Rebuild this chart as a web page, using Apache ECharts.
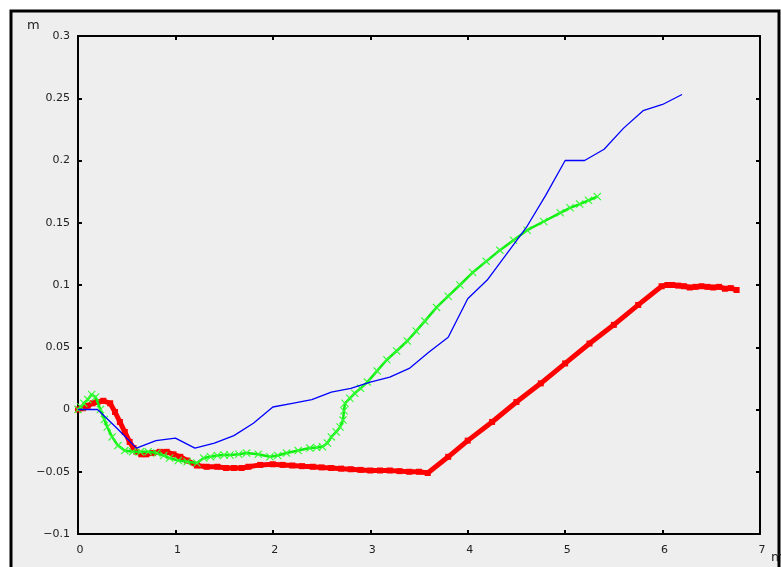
<!DOCTYPE html>
<html>
<head>
<meta charset="utf-8">
<script src="https://cdn.jsdelivr.net/npm/echarts@6/dist/echarts.min.js"></script>
<style>
html,body{margin:0;padding:0;background:#ffffff;}
#chart{width:781px;height:567px;}
</style>
</head>
<body>
<div id="chart"></div>
<script>
// Data (x in m, y in m)
var blueLine = [
  [0,0],[0.2,0],[0.4,-0.015],[0.6,-0.031],[0.8,-0.025],[1.0,-0.023],[1.2,-0.031],
  [1.4,-0.027],[1.6,-0.021],[1.8,-0.011],[2.0,0.002],[2.2,0.005],[2.4,0.008],
  [2.6,0.014],[2.8,0.017],[3.0,0.022],[3.2,0.026],[3.4,0.033],[3.6,0.046],
  [3.8,0.058],[4.0,0.089],[4.2,0.104],[4.4,0.125],[4.6,0.146],[4.8,0.172],
  [5.0,0.2],[5.2,0.2],[5.4,0.209],[5.6,0.226],[5.8,0.24],[6.0,0.245],[6.2,0.253]
];
var redLine = [
  [0,0],[0.05,0.001],[0.1,0.003],[0.15,0.005],[0.2,0.006],[0.26,0.007],[0.33,0.005],
  [0.38,-0.002],[0.43,-0.010],[0.48,-0.018],[0.53,-0.026],[0.57,-0.031],[0.6,-0.034],
  [0.65,-0.036],[0.7,-0.036],[0.77,-0.035],[0.84,-0.034],[0.91,-0.034],[0.98,-0.036],
  [1.05,-0.038],[1.12,-0.041],[1.22,-0.045],[1.32,-0.046],[1.43,-0.046],[1.52,-0.047],
  [1.6,-0.047],[1.68,-0.047],[1.75,-0.046],[1.87,-0.0445],[2.0,-0.044],[2.1,-0.0445],
  [2.2,-0.045],[2.3,-0.0455],[2.41,-0.046],[2.5,-0.0465],[2.6,-0.047],[2.7,-0.0475],
  [2.8,-0.048],[2.9,-0.0485],[3.0,-0.049],[3.1,-0.049],[3.2,-0.049],[3.3,-0.0495],
  [3.4,-0.050],[3.5,-0.050],[3.59,-0.051],[3.8,-0.038],[4.0,-0.025],[4.25,-0.010],
  [4.5,0.006],[4.75,0.021],[5.0,0.037],[5.25,0.053],[5.5,0.068],[5.75,0.084],
  [5.99,0.099],[6.05,0.100],[6.1,0.100],[6.16,0.0995],[6.22,0.099],[6.28,0.098],
  [6.34,0.0985],[6.4,0.099],[6.46,0.0985],[6.52,0.098],[6.58,0.0985],[6.64,0.097],
  [6.7,0.0975],[6.76,0.096]
];
var greenLine = [
  [0,0],[0.03,0.002],[0.06,0.005],[0.1,0.008],[0.14,0.012],[0.18,0.01],[0.23,0],
  [0.27,-0.008],[0.3,-0.014],[0.35,-0.022],[0.41,-0.029],[0.48,-0.033],[0.56,-0.034],
  [0.64,-0.034],[0.72,-0.034],[0.81,-0.035],[0.88,-0.037],[0.94,-0.039],[1.03,-0.041],
  [1.12,-0.042],[1.22,-0.043],[1.29,-0.039],[1.36,-0.038],[1.43,-0.037],[1.5,-0.0365],
  [1.56,-0.0365],[1.65,-0.036],[1.73,-0.035],[1.85,-0.036],[1.97,-0.038],[2.05,-0.037],
  [2.14,-0.035],[2.26,-0.033],[2.38,-0.031],[2.45,-0.0305],[2.51,-0.030],[2.56,-0.027],
  [2.6,-0.022],[2.65,-0.018],[2.69,-0.014],[2.72,-0.0085],[2.73,-0.001],[2.74,0.005],
  [2.79,0.009],[2.84,0.013],[2.9,0.017],[2.97,0.022],[3.07,0.031],[3.17,0.040],
  [3.27,0.047],[3.38,0.055],[3.47,0.063],[3.56,0.071],[3.68,0.082],[3.8,0.091],
  [3.92,0.100],[4.05,0.110],[4.19,0.119],[4.33,0.128],[4.47,0.136],[4.61,0.144],
  [4.78,0.151],[4.95,0.158],[5.05,0.162],[5.15,0.165],[5.24,0.168],[5.33,0.171]
];
var xTicks = [0,1,2,3,4,5,6,7];
var yTicks = [-0.1,-0.05,0,0.05,0.1,0.15,0.2,0.25,0.3];

var chart = echarts.init(document.getElementById('chart'), null, {renderer:'canvas'});
var fmtY = function(v){ return String(+(+v).toFixed(2)).replace('-', '\u2212'); };
var labelFont = {fontFamily:'DejaVu Sans', fontSize:11, color:'#222'};
var xPlus = 'path://M0,1 L1,0 L5,4 L9,0 L10,1 L6,5 L10,9 L9,10 L5,6 L1,10 L0,9 L4,5 Z';
var axisLineStyle = {show:true, onZero:false, lineStyle:{color:'#000', width:2}};
var tickStyle = {show:true, inside:true, length:4, lineStyle:{color:'#000', width:2}};

var option = {
  animation:false,
  backgroundColor:'#ffffff',
  graphic:[
    {type:'rect', z:-10, shape:{x:11, y:11, width:768, height:620},
     style:{fill:'#eeeeee', stroke:'#000000', lineWidth:3}},
    {type:'text', left:27, top:19, style:{text:'m', font:'13px DejaVu Sans', fill:'#222'}},
    {type:'text', left:771, top:551, style:{text:'m', font:'13px DejaVu Sans', fill:'#222'}}
  ],
  grid:{left:78, top:36, width:682, height:498, containLabel:false},
  xAxis:[
    {type:'value', min:xTicks[0], max:xTicks[xTicks.length-1], interval:1, position:'bottom',
     axisLine:axisLineStyle, axisTick:tickStyle,
     axisLabel:Object.assign({margin:11, padding:[0,0,0,4]}, labelFont),
     splitLine:{show:false}},
    {type:'value', min:xTicks[0], max:xTicks[xTicks.length-1], interval:1, position:'top',
     axisLine:axisLineStyle, axisTick:tickStyle,
     axisLabel:{show:false}, splitLine:{show:false}}
  ],
  yAxis:[
    {type:'value', min:yTicks[0], max:yTicks[yTicks.length-1], interval:0.05, position:'left',
     axisLine:axisLineStyle, axisTick:tickStyle,
     axisLabel:Object.assign({margin:8, formatter:fmtY}, labelFont),
     splitLine:{show:false}},
    {type:'value', min:yTicks[0], max:yTicks[yTicks.length-1], interval:0.05, position:'right',
     axisLine:axisLineStyle, axisTick:tickStyle,
     axisLabel:{show:false}, splitLine:{show:false}}
  ],
  series:[
    {name:'red', type:'line', data:redLine, z:2,
     lineStyle:{color:'#ff0000', width:5}, itemStyle:{color:'#ff0000'},
     symbol:'rect', symbolSize:6, showSymbol:true, showAllSymbol:true},
    {name:'green', type:'line', data:greenLine, z:3,
     lineStyle:{color:'#11ee11', width:2.5}, itemStyle:{color:'#33ff33'},
     symbol:xPlus, symbolSize:8, showSymbol:true, showAllSymbol:true},
    {name:'blue', type:'line', data:blueLine, z:4,
     lineStyle:{color:'#0000ff', width:1.3}, symbol:'none'}
  ]
};
chart.setOption(option);
</script>
</body>
</html>
